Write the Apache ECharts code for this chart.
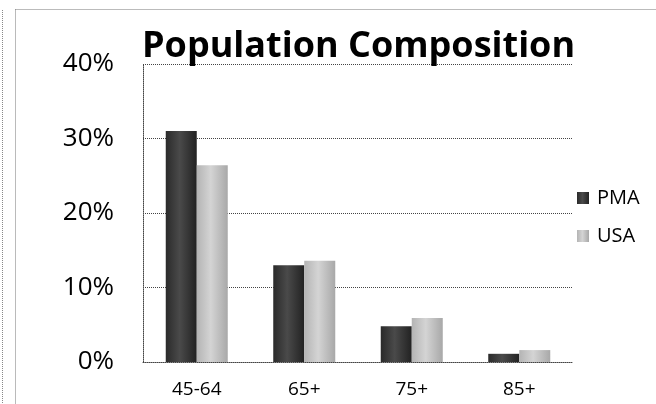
<!DOCTYPE html>
<html>
<head>
<meta charset="utf-8">
<script src="https://cdn.jsdelivr.net/npm/echarts@6/dist/echarts.min.js"></script>
<style>
  html, body { margin: 0; padding: 0; background: #fff; }
  #chart { width: 656px; height: 404px; }
</style>
</head>
<body>
<div id="chart"></div>
<script>
// Age groups and share of population (%) for each area
const categories = ['45-64', '65+', '75+', '85+'];
const pmaValues = [31, 13, 4.8, 1.1];
const usaValues = [26.4, 13.6, 5.9, 1.6];
const yTicks = [0, 10, 20, 30, 40];
const titleText = 'Population Composition';

const chart = echarts.init(document.getElementById('chart'), null, { renderer: 'canvas' });

const dotted = { color: '#444', width: 1, type: [1, 1] };

function cylinder(dark) {
  return dark
    ? new echarts.graphic.LinearGradient(0, 0, 1, 0, [
        { offset: 0, color: '#2a2a2a' },
        { offset: 0.45, color: '#4a4a4a' },
        { offset: 1, color: '#222' }
      ])
    : new echarts.graphic.LinearGradient(0, 0, 1, 0, [
        { offset: 0, color: '#b4b4b4' },
        { offset: 0.45, color: '#d4d4d4' },
        { offset: 1, color: '#a8a8a8' }
      ]);
}

chart.setOption({
  animation: false,
  backgroundColor: '#fff',
  textStyle: { fontFamily: 'Open Sans' },
  title: {
    text: titleText,
    left: 137,
    top: 24,
    textStyle: { fontFamily: 'Open Sans', fontWeight: 'bold', fontSize: 36, color: '#000' }
  },
  legend: {
    orient: 'vertical',
    left: 577,
    top: 188,
    padding: 0,
    itemWidth: 12,
    itemHeight: 12,
    itemGap: 18,
    icon: 'rect',
    textStyle: { fontFamily: 'Open Sans', fontSize: 20, color: '#000', padding: [0, 0, 0, 3] },
    data: ['PMA', 'USA']
  },
  grid: { left: 143, right: 83, top: 64, bottom: 42 },
  xAxis: {
    type: 'category',
    data: categories,
    axisLine: { lineStyle: dotted },
    axisTick: { show: false },
    axisLabel: { fontFamily: 'Open Sans', fontSize: 19, color: '#000', margin: 18 }
  },
  yAxis: {
    type: 'value',
    min: yTicks[0],
    max: yTicks[yTicks.length - 1],
    interval: 10,
    axisLine: { show: true, lineStyle: dotted },
    axisTick: { show: false },
    splitLine: { lineStyle: dotted },
    axisLabel: {
      fontFamily: 'Open Sans', fontSize: 26, color: '#000', margin: 29,
      formatter: v => v + '%'
    }
  },
  series: [
    {
      name: 'PMA',
      type: 'bar',
      data: pmaValues,
      barWidth: 31,
      barGap: '0%',
      itemStyle: { color: cylinder(true) }
    },
    {
      name: 'USA',
      type: 'bar',
      data: usaValues,
      barWidth: 31,
      barGap: '0%',
      itemStyle: { color: cylinder(false) }
    }
  ],
  graphic: [
    // outer frame lines
    { type: 'line', shape: { x1: 2.5, y1: 10, x2: 2.5, y2: 404 }, style: { stroke: '#888', lineWidth: 1, lineDash: [1, 1] } },
    { type: 'line', shape: { x1: 15.5, y1: 9.5, x2: 15.5, y2: 404 }, style: { stroke: '#777', lineWidth: 1, lineDash: [1, 1] } },
    { type: 'line', shape: { x1: 15.5, y1: 9.5, x2: 656, y2: 9.5 }, style: { stroke: '#777', lineWidth: 1, lineDash: [1, 1] } }
  ]
});
</script>
</body>
</html>
